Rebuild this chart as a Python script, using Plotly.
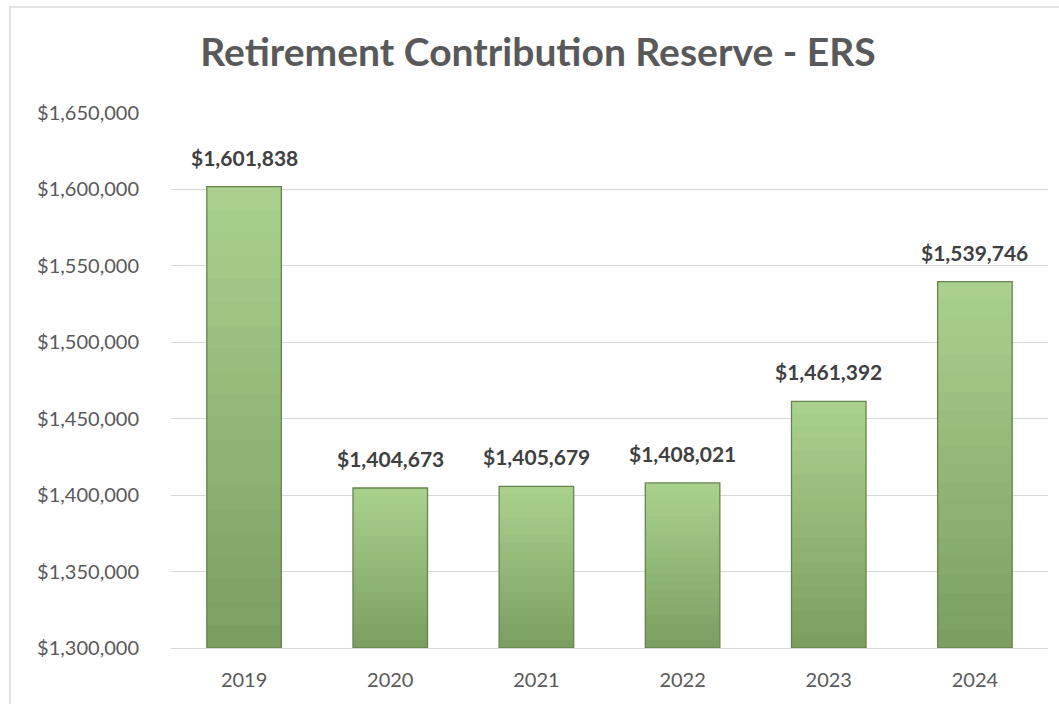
import plotly.graph_objects as go

years = ["2019", "2020", "2021", "2022", "2023", "2024"]
values = [1601838, 1404673, 1405679, 1408021, 1461392, 1539746]
y_ticks = [1300000, 1350000, 1400000, 1450000, 1500000, 1550000, 1600000, 1650000]
y_tick_labels = ["${:,.0f}".format(v) for v in y_ticks]
title_text = "Retirement Contribution Reserve - ERS"

Y_MIN, Y_MAX = 1300000, 1650000
top_rgb = (170, 210, 142)
bot_rgb = (122, 158, 96)
N_SEG = 20
OVERLAP = 0.02

fig = go.Figure()

# gradient fill via stacked segments derived from the data values
for i in range(N_SEG):
    f0 = i / N_SEG
    f1 = min((i + 1) / N_SEG + OVERLAP, 1.0)
    t = (i + 0.5) / N_SEG
    col = tuple(int(round(bot_rgb[k] + (top_rgb[k] - bot_rgb[k]) * t)) for k in range(3))
    bases = [Y_MIN + (v - Y_MIN) * f0 for v in values]
    heights = [(v - Y_MIN) * (f1 - f0) for v in values]
    fig.add_trace(go.Bar(
        x=years, y=heights, base=bases,
        marker=dict(color="rgb(%d,%d,%d)" % col, line=dict(width=0)),
        hoverinfo="skip", showlegend=False,
    ))

# outline
fig.add_trace(go.Bar(
    x=years, y=[v - Y_MIN for v in values], base=[Y_MIN] * len(values),
    marker=dict(color="rgba(0,0,0,0)", line=dict(color="#67844f", width=1.3)),
    showlegend=False, hovertemplate="%{x}: $%{customdata:,.0f}<extra></extra>",
    customdata=values,
))

for idx, v in enumerate(values):
    fig.add_annotation(
        x=idx, y=v, text="<b>${:,.0f}</b>".format(v), showarrow=False,
        yanchor="bottom", yshift=15,
        font=dict(family="Lato, Open Sans, sans-serif", size=21, color="#404040"),
    )

# chart border
fig.add_shape(type="rect", xref="paper", yref="paper",
              x0=-0.1836, x1=1.2, y0=-0.3, y1=1.198,
              line=dict(color="#d9d9d9", width=1.5), fillcolor="rgba(0,0,0,0)",
              layer="below")

fig.update_layout(
    width=1059, height=704,
    barmode="overlay", bargap=0.49,
    paper_bgcolor="white", plot_bgcolor="white",
    margin=dict(l=171, r=11, t=113, b=56),
    title=dict(text="<b>" + title_text + "</b>", x=0.508, xanchor="center",
               y=0.926, yanchor="middle",
               font=dict(family="Lato, Open Sans, sans-serif", size=39, color="#595959")),
    font=dict(family="Lato, Open Sans, sans-serif", color="#595959"),
)
fig.update_yaxes(range=[Y_MIN, Y_MAX], tickvals=y_ticks, ticktext=y_tick_labels,
                 showgrid=True, gridcolor="#d9d9d9", gridwidth=1,
                 zeroline=False, showline=False, ticklabelstandoff=31,
                 tickfont=dict(size=20, color="#595959"))
fig.update_xaxes(type="category", range=[-0.5, 5.5], showgrid=False, showline=True,
                 linecolor="#d9d9d9", linewidth=1, ticks="", ticklabelstandoff=14,
                 tickfont=dict(size=20, color="#595959"))

fig.write_html("out.html", config={"displayModeBar": False},
               post_script="document.body.style.margin='0';document.body.style.overflow='hidden';")
